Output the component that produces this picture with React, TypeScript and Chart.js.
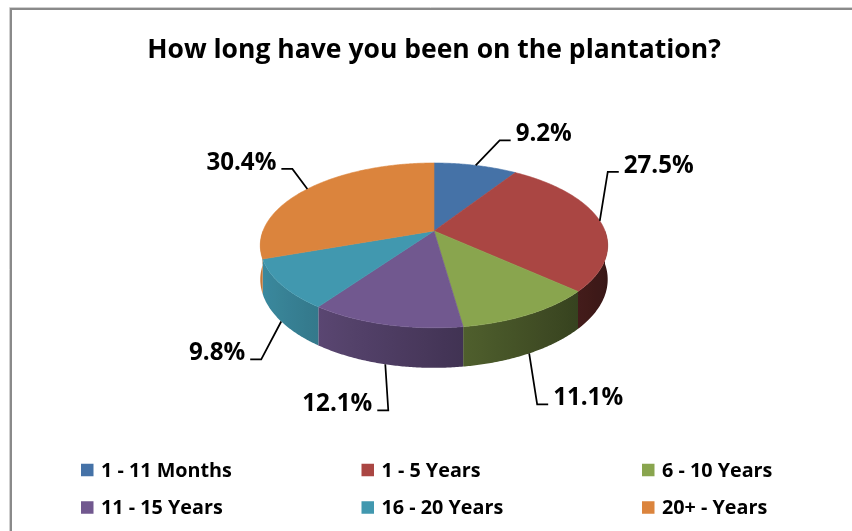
import React, { useEffect, useRef } from "react";
import { Chart, registerables } from "chart.js";

Chart.register(...registerables);

// ---- data ----
const categories = ["1 - 11 Months", "1 - 5 Years", "6 - 10 Years", "11 - 15 Years", "16 - 20 Years", "20+ - Years"];
const values = [9.2, 27.5, 11.1, 12.1, 9.8, 30.4];
const sliceColors = ["#4572A7", "#AA4643", "#89A54E", "#71588F", "#4198AF", "#DB843D"];
const chartTitle = "How long have you been on the plantation?";

// ---- styling / layout ----
const FONT = "'Open Sans', Lato, sans-serif";
const TILT = 0.467; // vertical squash of the top face
const PERSP = 0.1757; // perspective strength
const DEPTH = 0.193; // side height relative to radius
// elbow of each leader line relative to its anchor on the pie
const leaderElbows: [number, number][] = [
  [24, -25],
  [8, -49],
  [8, 51],
  [3, 46],
  [-20, 38],
  [-15, -20],
];
const LEADER_RUN = 11;
const LABEL_GAP = 5;
const LEGEND_LEFT = 81;
const LEGEND_COL_W = 280.5;
const LEGEND_ROWS_Y = [470, 507.5];
const LEGEND_BOX = 12.5;
const LEGEND_GAP = 7.5;

function fitSize(text: string, target: number, fallback: number) {
  try {
    const c = document.createElement("canvas").getContext("2d");
    if (!c) return fallback;
    c.font = `bold 100px ${FONT}`;
    const w = c.measureText(text).width;
    return w > 0 ? (100 * target) / w : fallback;
  } catch (e) {
    return fallback;
  }
}

function shade(hex: string, f: number) {
  const n = parseInt(hex.slice(1), 16);
  const r = Math.round(((n >> 16) & 255) * f);
  const g = Math.round(((n >> 8) & 255) * f);
  const b = Math.round((n & 255) * f);
  return `rgb(${r},${g},${b})`;
}
function sideFactor(u: number) {
  return Math.max(0.33, Math.min(0.9, 0.62 - 0.3 * u));
}

function makeProjector(arc: any) {
  const { x: cx, y: cy, outerRadius: R } = arc;
  const B = R * TILT;
  const H = R * DEPTH;
  const top = (a: number) => {
    const s = Math.sin(a);
    const d = 1 - PERSP * s;
    return { x: cx + (R * Math.cos(a)) / d, y: cy + (B * s) / d };
  };
  const bot = (a: number) => {
    const p = top(a);
    return { x: p.x, y: p.y + H / (1 - PERSP * Math.sin(a)) };
  };
  return { cx, cy, top, bot };
}

const pie3d = {
  id: "pie3d",
  beforeDraw(chart: any) {
    const ctx = chart.ctx;
    ctx.save();
    ctx.fillStyle = "#ffffff";
    ctx.fillRect(0, 0, chart.width, chart.height);
    ctx.strokeStyle = "#cfcfcf";
    ctx.lineWidth = 1;
    ctx.beginPath();
    ctx.moveTo(9.5, chart.height);
    ctx.lineTo(9.5, 7.5);
    ctx.lineTo(chart.width, 7.5);
    ctx.stroke();
    ctx.strokeStyle = "#8a8a8a";
    ctx.lineWidth = 2;
    ctx.beginPath();
    ctx.moveTo(11, chart.height);
    ctx.lineTo(11, 9);
    ctx.lineTo(chart.width, 9);
    ctx.stroke();
    ctx.restore();
  },
  beforeDatasetsDraw(chart: any) {
    const arcs = chart.getDatasetMeta(0).data;
    if (!arcs.length) return false;
    const ctx = chart.ctx;
    const colors = chart.data.datasets[0].backgroundColor as string[];
    const { cx, cy, top, bot } = makeProjector(arcs[0]);
    const step = Math.PI / 360;
    ctx.save();
    // sides (front half only), smooth horizontal gradient
    arcs.forEach((arc: any, i: number) => {
      const a0 = Math.max(arc.startAngle, 0);
      const a1 = Math.min(arc.endAngle, Math.PI);
      if (a1 <= a0) return;
      const n = Math.max(2, Math.ceil((a1 - a0) / step));
      ctx.beginPath();
      for (let k = 0; k <= n; k++) {
        const p = top(a0 + ((a1 - a0) * k) / n);
        if (k === 0) ctx.moveTo(p.x, p.y);
        else ctx.lineTo(p.x, p.y);
      }
      for (let k = n; k >= 0; k--) {
        const q = bot(a0 + ((a1 - a0) * k) / n);
        ctx.lineTo(q.x, q.y);
      }
      ctx.closePath();
      const xs = top(a0).x;
      const xe = top(a1).x;
      const grad = ctx.createLinearGradient(xs, 0, xe, 0);
      const m = 8;
      for (let k = 0; k <= m; k++) {
        const a = a0 + ((a1 - a0) * k) / m;
        const x = top(a).x;
        const off = xe === xs ? 0 : Math.min(1, Math.max(0, (x - xs) / (xe - xs)));
        grad.addColorStop(off, shade(colors[i], sideFactor(Math.cos(a))));
      }
      ctx.fillStyle = grad;
      ctx.fill();
    });
    // top faces
    arcs.forEach((arc: any, i: number) => {
      const a0 = arc.startAngle, a1 = arc.endAngle;
      const n = Math.max(2, Math.ceil((a1 - a0) / step));
      ctx.beginPath();
      ctx.moveTo(cx, cy);
      for (let k = 0; k <= n; k++) {
        const p = top(a0 + ((a1 - a0) * k) / n);
        ctx.lineTo(p.x, p.y);
      }
      ctx.closePath();
      ctx.fillStyle = colors[i];
      ctx.strokeStyle = colors[i];
      ctx.lineWidth = 0.6;
      ctx.fill();
      ctx.stroke();
    });
    ctx.restore();
    return false;
  },
  afterDraw(chart: any) {
    const ctx = chart.ctx;
    const arcs = chart.getDatasetMeta(0).data;
    const data = chart.data.datasets[0].data as number[];
    const colors = chart.data.datasets[0].backgroundColor as string[];
    if (!arcs.length) return;
    const { top, bot } = makeProjector(arcs[0]);
    const labelSize = fitSize("30.4%", 70, 24);
    const legendSize = fitSize("1 - 11 Months", 131, 19);
    ctx.save();
    // data labels with leader lines
    arcs.forEach((arc: any, i: number) => {
      const mid = (arc.startAngle + arc.endAngle) / 2;
      const anchor = Math.sin(mid) > 0.3 ? bot(mid) : top(mid);
      const dir = Math.cos(mid) >= 0 ? 1 : -1;
      const elbow = { x: anchor.x + leaderElbows[i][0], y: anchor.y + leaderElbows[i][1] };
      const end = { x: elbow.x + dir * LEADER_RUN, y: elbow.y };
      ctx.strokeStyle = "#000";
      ctx.lineWidth = 1.75;
      ctx.beginPath();
      ctx.moveTo(anchor.x, anchor.y);
      ctx.lineTo(elbow.x, elbow.y);
      ctx.lineTo(end.x, end.y);
      ctx.stroke();
      ctx.fillStyle = "#000";
      ctx.font = `bold ${labelSize}px ${FONT}`;
      ctx.textBaseline = "alphabetic";
      ctx.textAlign = dir > 0 ? "left" : "right";
      ctx.fillText(`${data[i].toFixed(1)}%`, end.x + dir * LABEL_GAP, end.y + 1);
    });
    // legend
    (chart.data.labels as string[]).forEach((label: string, i: number) => {
      const col = i % 3;
      const row = Math.floor(i / 3);
      const x = LEGEND_LEFT + col * LEGEND_COL_W;
      const y = LEGEND_ROWS_Y[row];
      ctx.fillStyle = colors[i];
      ctx.fillRect(x, y - LEGEND_BOX / 2, LEGEND_BOX, LEGEND_BOX);
      ctx.fillStyle = "#000";
      ctx.font = `bold ${legendSize}px ${FONT}`;
      ctx.textAlign = "left";
      ctx.textBaseline = "middle";
      ctx.fillText(label, x + LEGEND_BOX + LEGEND_GAP, y + 1);
    });
    ctx.restore();
  },
};

export default function App() {
  const ref = useRef<HTMLCanvasElement>(null);
  useEffect(() => {
    if (!ref.current) return;
    const titleSize = fitSize(chartTitle, 574, 26);
    const chart = new Chart(ref.current, {
      type: "pie",
      data: {
        labels: categories,
        datasets: [
          {
            data: values,
            backgroundColor: sliceColors,
            borderWidth: 0,
          },
        ],
      },
      options: {
        animation: false,
        responsive: false,
        devicePixelRatio: 1,
        events: [],
        radius: 171,
        layout: { padding: { left: 16, right: 0, top: 0, bottom: 156 } },
        plugins: {
          legend: { display: false },
          tooltip: { enabled: false },
          title: {
            display: true,
            text: chartTitle,
            color: "#000",
            font: { family: FONT, size: titleSize, weight: "bold", lineHeight: 1.2 },
            padding: { top: 35, bottom: 20 },
          },
        },
      } as any,
      plugins: [pie3d],
    });
    return () => chart.destroy();
  }, []);
  return (
    <div style={{ position: "absolute", left: 0, top: 0, width: 852, height: 531, background: "#fff" }}>
      <canvas ref={ref} width={852} height={531} style={{ display: "block", width: 852, height: 531 }} />
    </div>
  );
}
